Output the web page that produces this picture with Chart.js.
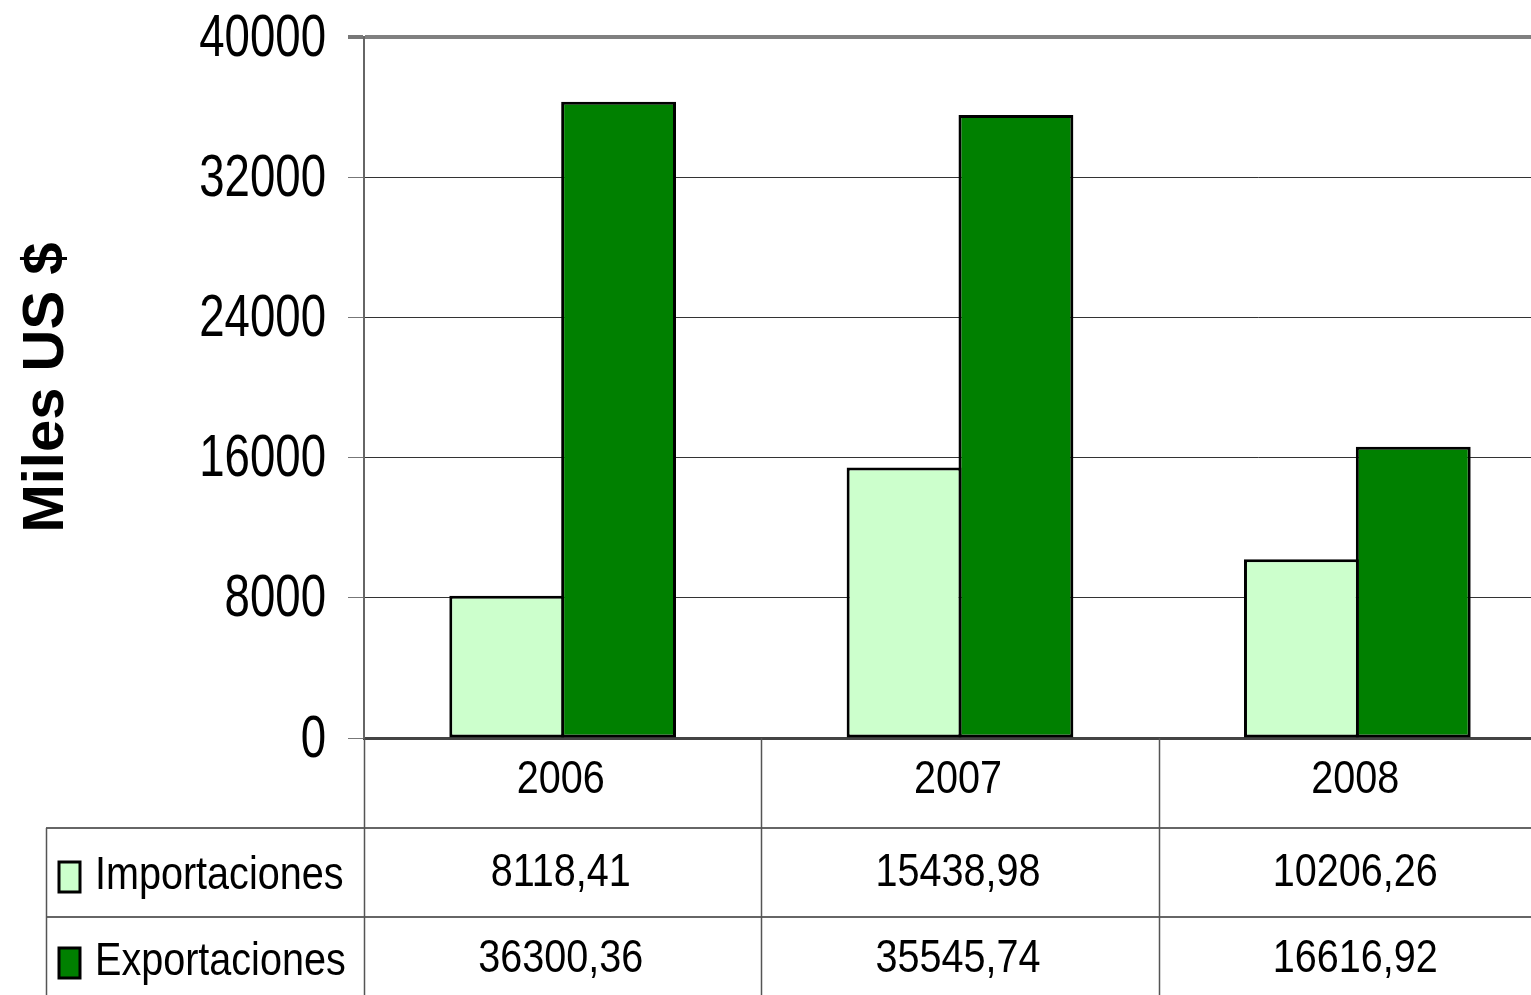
<!DOCTYPE html>
<html>
<head>
<meta charset="utf-8">
<script src="https://cdn.jsdelivr.net/npm/chart.js@4/dist/chart.umd.min.js"></script>
<style>
  html, body { margin: 0; padding: 0; background: #fff; overflow: hidden; }
  #wrap { width: 1556px; height: 995px; }
</style>
</head>
<body>
<div id="wrap"><canvas id="myChart" width="1556" height="995"></canvas></div>
<script>
'use strict';
// data
const years = ['2006', '2007', '2008'];
const importaciones = [8118.41, 15438.98, 10206.26];
const exportaciones = [36300.36, 35545.74, 16616.92];
const yTicks = [0, 8000, 16000, 24000, 32000, 40000];

const fmt = (v) => v.toFixed(2).replace('.', ',');

// no Arial Narrow here, so squeeze Liberation Sans horizontally
function narrowText(ctx, text, x, y, size, squeeze, align) {
	ctx.save();
	ctx.font = size + 'px "Liberation Sans", Arial, sans-serif';
	ctx.textBaseline = 'middle';
	ctx.textAlign = align;
	ctx.translate(x, y);
	ctx.scale(squeeze, 1);
	ctx.fillStyle = '#000';
	ctx.fillText(text, 0, 0);
	ctx.restore();
}

// draws tick labels and the data table under the x axis
const dataTable = {
	id: 'dataTable',
	afterDraw(chart) {
		const ctx = chart.ctx;
		const area = chart.chartArea;
		const x = chart.scales.x;
		const y = chart.scales.y;
		const W = chart.width;
		const H = chart.height;
		const colW = (area.right - area.left) / years.length;
		const row1 = 828, row2 = 917;

		// y tick labels
		yTicks.forEach((v) => {
			narrowText(ctx, String(v), 326, y.getPixelForValue(v) + 2, 60, 0.76, 'right');
		});
		// year labels
		years.forEach((yr, i) => {
			narrowText(ctx, yr, x.getPixelForValue(i) - 2, 780, 46, 0.86, 'center');
		});

		ctx.save();
		// horizontal lines
		ctx.strokeStyle = '#666';
		ctx.lineWidth = 2;
		ctx.beginPath();
		ctx.moveTo(46, row1); ctx.lineTo(W, row1);
		ctx.stroke();
		ctx.strokeStyle = '#333';
		ctx.lineWidth = 1.5;
		ctx.beginPath();
		ctx.moveTo(46, row2); ctx.lineTo(W, row2);
		ctx.stroke();
		// vertical lines
		ctx.strokeStyle = '#555';
		ctx.lineWidth = 1.5;
		ctx.beginPath();
		for (let i = 0; i < years.length; i++) {
			const bx = Math.round(area.left + i * colW) + 0.5;
			ctx.moveTo(bx, area.bottom); ctx.lineTo(bx, H);
		}
		ctx.moveTo(46.5, row1); ctx.lineTo(46.5, H);
		ctx.stroke();

		// legend keys + labels + values
		const rows = [
			{ label: 'Importaciones', color: '#CCFFCC', data: importaciones, y: 876 },
			{ label: 'Exportaciones', color: '#008000', data: exportaciones, y: 962 }
		];
		rows.forEach((r) => {
			ctx.fillStyle = r.color;
			ctx.fillRect(59, r.y - 14, 21, 30);
			ctx.strokeStyle = '#000';
			ctx.lineWidth = 3;
			ctx.strokeRect(59, r.y - 14, 21, 30);
			narrowText(ctx, r.label, 95, r.y, 46, 0.86, 'left');
			r.data.forEach((v, i) => {
				narrowText(ctx, fmt(v), x.getPixelForValue(i) - 2, r.y - 3, 46, 0.86, 'center');
			});
		});
		ctx.restore();
	}
};

const ctx = document.getElementById('myChart');
new Chart(ctx, {
	type: 'bar',
	data: {
		labels: years,
		datasets: [
			{
				label: 'Importaciones',
				data: importaciones,
				backgroundColor: '#CCFFCC',
				borderColor: '#000',
				borderWidth: 3,
				borderSkipped: false
			},
			{
				label: 'Exportaciones',
				data: exportaciones,
				backgroundColor: '#008000',
				borderColor: '#000',
				borderWidth: 3,
				borderSkipped: false
			}
		]
	},
	options: {
		responsive: false,
		animation: false,
		layout: { padding: { top: 37, left: 0, right: 0, bottom: 0 } },
		plugins: {
			legend: { display: false },
			tooltip: { enabled: false }
		},
		datasets: {
			// bars overlap a little so the shared edge is one border
			bar: { categoryPercentage: 0.563, barPercentage: 1.027 }
		},
		scales: {
			x: {
				afterFit: (s) => { s.height = 257; },
				grid: { display: false },
				border: { color: '#444', width: 3 },
				ticks: { display: false }
			},
			y: {
				min: 0,
				max: 40000,
				afterFit: (s) => { s.width = 364; },
				afterBuildTicks: (s) => { s.ticks = yTicks.map((v) => ({ value: v })); },
				grid: {
					color: (c) => (c.tick && c.tick.value === 40000 ? '#808080' : '#333'),
					lineWidth: (c) => (c.tick && c.tick.value === 40000 ? 4 : 1),
					tickLength: 16,
					tickColor: '#777'
				},
				border: { color: '#666', width: 2 },
				ticks: { display: false },
				title: {
					display: true,
					text: 'Miles US $',
					color: '#000',
					padding: { top: 12, bottom: 0 },
					font: { family: 'Liberation Sans, Arial, sans-serif', size: 58, weight: 'bold' }
				}
			}
		}
	},
	plugins: [dataTable]
});
</script>
</body>
</html>
